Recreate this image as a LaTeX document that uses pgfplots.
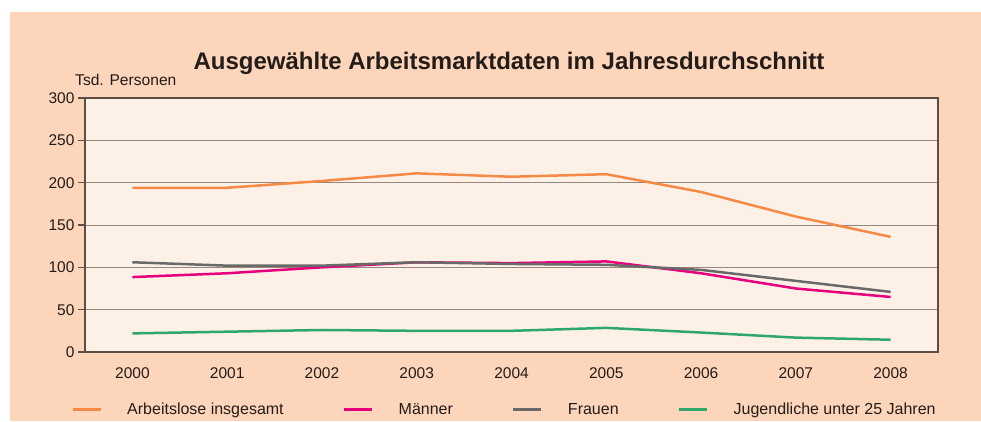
\documentclass[border=0pt]{standalone}
\usepackage{fontspec}
\setmainfont{Liberation Sans}
\usepackage{pgfplots}
\pgfplotsset{compat=1.18}
\definecolor{peach}{RGB}{253,213,187}
\definecolor{plotbg}{RGB}{253,241,231}
\definecolor{framecol}{RGB}{90,78,70}
\definecolor{gridcol}{RGB}{150,135,128}
\definecolor{txtcol}{RGB}{35,28,25}
\definecolor{corange}{RGB}{245,138,70}
\definecolor{cpink}{RGB}{230,0,126}
\definecolor{cgrey}{RGB}{105,105,105}
\definecolor{cgreen}{RGB}{46,168,106}
\begin{document}
\begin{tikzpicture}[x=1pt,y=1pt]
\fill[white] (0,0) rectangle (981,-421);
\fill[peach] (10,-12) rectangle (981,-421);
\node[font=\bfseries\fontsize{24}{28}\selectfont, text=txtcol] at (509,-63) {Ausgewählte Arbeitsmarktdaten im Jahresdurchschnitt};
\node[anchor=west, font=\fontsize{15.6}{18}\selectfont, inner sep=0pt, text=txtcol] at (75,-80) {Tsd. Personen};
\begin{axis}[
  at={(85pt,-352pt)}, anchor=south west,
  width=853pt, height=254pt, scale only axis,
  xmin=-0.5, xmax=8.5, ymin=0, ymax=300,
  xtick={0,1,2,3,4,5,6,7,8},
  xticklabels={2000,2001,2002,2003,2004,2005,2006,2007,2008},
  ytick={0,50,100,150,200,250,300},
  ytick pos=left,
  axis background/.style={fill=plotbg},
  axis line style={framecol, line width=1.5pt},
  ymajorgrids,
  major grid style={gridcol, line width=1pt},
  tick align=outside,
  ytick style={framecol, line width=1.2pt},
  major tick length=7pt,
  xtick style={draw=none},
  tick label style={font=\fontsize{15.5}{18}\selectfont, text=txtcol},
  /pgf/number format/assume math mode=true,
  xticklabel style={yshift=-5pt},
  legend columns=4,
  legend style={draw=none, fill=none, at={(-0.0164,-0.2244)}, anchor=west, inner sep=0pt,
     font=\fontsize{16}{18}\selectfont, text=txtcol,
     /tikz/every odd column/.append style={column sep=23pt},
     /tikz/every even column/.append style={column sep=57pt, text height=12pt, text depth=3.5pt}},
  legend image code/.code={\draw[#1, line width=3pt] (0pt,0pt) -- (28pt,0pt);},
  every axis plot/.append style={line width=2.5pt, mark=none},
]
\addplot[corange] coordinates {(0,194) (1,194) (2,202) (3,211) (4,207) (5,210) (6,189) (7,160) (8,136)};
\addlegendentry{Arbeitslose insgesamt}
\addplot[cpink] coordinates {(0,88.5) (1,93) (2,100) (3,106) (4,105) (5,107) (6,93) (7,75) (8,65)};
\addlegendentry{Männer}
\addplot[cgrey] coordinates {(0,106) (1,102) (2,102) (3,106) (4,104) (5,103) (6,97) (7,84) (8,71)};
\addlegendentry{Frauen}
\addplot[cgreen] coordinates {(0,22) (1,24) (2,26) (3,25) (4,25) (5,28.5) (6,23) (7,17) (8,14.5)};
\addlegendentry{Jugendliche unter 25 Jahren}
\end{axis}
\end{tikzpicture}
\end{document}
